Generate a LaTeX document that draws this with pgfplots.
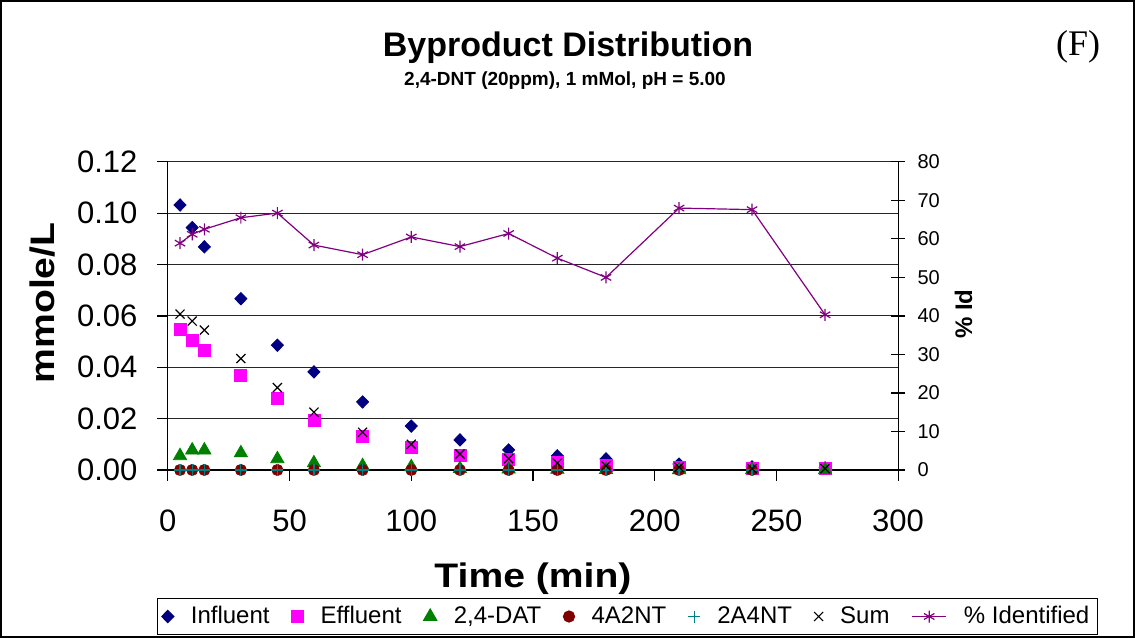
\documentclass[border=0pt]{standalone}
\usepackage{pgfplots}
\pgfplotsset{compat=1.18}
\usepackage{pgfplotstable}
\usepackage{fontspec}
\setmainfont{Liberation Sans}
\newfontfamily\timesfont{Liberation Serif}
\newfontfamily\widefont[FakeStretch=1.15]{Liberation Sans}

\definecolor{cinfl}{RGB}{0,0,128}
\definecolor{ceffl}{RGB}{255,0,255}
\definecolor{cdat}{RGB}{0,128,0}
\definecolor{cfour}{RGB}{128,0,0}
\definecolor{ctwo}{RGB}{0,128,128}
\definecolor{cpid}{RGB}{128,0,128}

% time, influent, effluent, 2,4-DAT, 4A2NT, 2A4NT, sum (mmole/L), % identified
\pgfplotstableread{
t    infl   effl   dat    fa    tw    sum    pid
5    0.1032 0.0549 0.0055 0     0     0.0607 58.9
10   0.0944 0.0503 0.0077 0     0     0.0580 61.2
15   0.0869 0.0465 0.0077 0     0     0.0545 62.5
30   0.0667 0.0370 0.0066 0     0     0.0434 65.5
45   0.0486 0.0277 0.0043 0     0     0.0321 66.7
60   0.0382 0.0195 0.0027 0     0     0.0225 58.4
80   0.0265 0.0129 0.0016 0     0     0.0147 55.9
100  0.0171 0.0087 0.0012 0     0     0.0100 60.5
120  0.0117 0.0058 0.0005 0     0     0.0062 58.0
140  0.0078 0.0043 0.0003 0     0     0.0044 61.4
160  0.0055 0.0028 0.0002 0     0     0.0027 55.0
180  0.0043 0.0016 0.0001 0     0     0.0016 50.0
210  0.0023 0.0010 0      0     0     0.0011 68.0
240  0.0012 0.0006 0      0     0     0.0005 67.6
270  0.0008 0.0005 0      nan   nan   0.0005 40.3
}\data

\pgfplotsset{
  sinfl/.style={only marks, mark=diamond*, mark size=3.1pt, mark options={xscale=1.3}, color=cinfl},
  seffl/.style={only marks, mark=square*, mark size=3pt, color=ceffl},
  sdat/.style={only marks, mark=triangle*, mark size=3.8pt, color=cdat},
  sfour/.style={only marks, mark=*, mark size=2.8pt, color=cfour},
  stwo/.style={only marks, mark=+, mark size=3pt, color=ctwo, line width=0.6pt},
  ssum/.style={only marks, mark=x, mark size=3.2pt, color=black, line width=0.6pt},
  spid/.style={color=cpid, mark=asterisk, mark size=3pt, line width=0.6pt},
  base/.style={
    scale only axis, width=365pt, height=154pt,
    xmin=0, xmax=300, clip=false,
    /pgf/number format/assume math mode=true,
    tick label style={font=\fontsize{15.5}{18}\selectfont},
    axis line style={black, line width=0.6pt},
    tick style={black, line width=0.6pt},
  },
}

\begin{document}
\begin{tikzpicture}
\begin{axis}[base,
  ymin=0, ymax=0.12,
  axis lines*=left,
  xtick={0,50,...,300}, ytick={0,0.02,...,0.12},
  tick align=outside, major tick length=5.5pt,
  ymajorgrids, major grid style={black!85, line width=0.5pt},
  scaled y ticks=false,
  yticklabel style={/pgf/number format/fixed, /pgf/number format/fixed zerofill,
    /pgf/number format/precision=2, anchor=east, inner sep=0pt, xshift=-9.5pt},
  xticklabel style={anchor=north, inner sep=0pt, yshift=-14pt},
  xlabel={Time (min)},
  xlabel style={font=\widefont\bfseries\fontsize{17}{20}\selectfont, at={(axis description cs:0.5,-0.383)}, anchor=base},
  ylabel={mmole/L},
  ylabel style={font=\widefont\bfseries\fontsize{17}{20}\selectfont, at={(axis description cs:-0.155,0.542)}, anchor=base},
]
\addplot[sinfl] table[x=t, y=infl] {\data};
\addplot[seffl] table[x=t, y=effl] {\data};
\addplot[sdat] table[x=t, y=dat] {\data};
\addplot[sfour] table[x=t, y=fa] {\data};
\addplot[stwo] table[x=t, y=tw] {\data};
\addplot[ssum] table[x=t, y=sum] {\data};
\end{axis}

\begin{axis}[base,
  ymin=0, ymax=80,
  axis x line=none, axis y line*=right,
  ytick={0,10,...,80},
  tick align=center, major tick length=7pt,
  yticklabel style={font=\fontsize{10}{12}\selectfont, anchor=west, inner sep=0pt, xshift=6pt},
  ylabel={\% Id},
  ylabel style={font=\bfseries\fontsize{12}{14}\selectfont, at={(axis description cs:1.1014,0.506)}, anchor=base},
  legend columns=-1,
  legend style={at={(axis description cs:0.6295,-0.4756)}, anchor=center,
    draw=black, line width=0.5pt, font=\fontsize{12}{14}\selectfont,
    inner sep=2pt,
    /tikz/every even column/.append style={column sep=9pt},
    /tikz/every odd column/.append style={column sep=6.5pt}},
]
\addlegendimage{sinfl}\addlegendentry{Influent}
\addlegendimage{seffl}\addlegendentry{Effluent}
\addlegendimage{sdat}\addlegendentry{2,4-DAT}
\addlegendimage{sfour}\addlegendentry{4A2NT}
\addlegendimage{stwo}\addlegendentry{2A4NT}
\addlegendimage{ssum}\addlegendentry{Sum}
\addplot[spid] table[x=t, y=pid] {\data};
\addlegendentry{\% Identified}
\end{axis}

\node[font=\bfseries\fontsize{17}{20}\selectfont, anchor=base] at (200pt,206.5pt) {Byproduct Distribution};
\node[font=\bfseries\fontsize{9.5}{11}\selectfont, anchor=base] at (198.5pt,192pt) {2,4-DNT (20ppm), 1 mMol, pH = 5.00};
\node[font=\timesfont\fontsize{18}{20}\selectfont, anchor=base] at (455pt,207pt) {(F)};
\draw[line width=0.8pt] (-83.5pt,-83.5pt) rectangle (483pt,234.5pt);
\end{tikzpicture}
\end{document}
